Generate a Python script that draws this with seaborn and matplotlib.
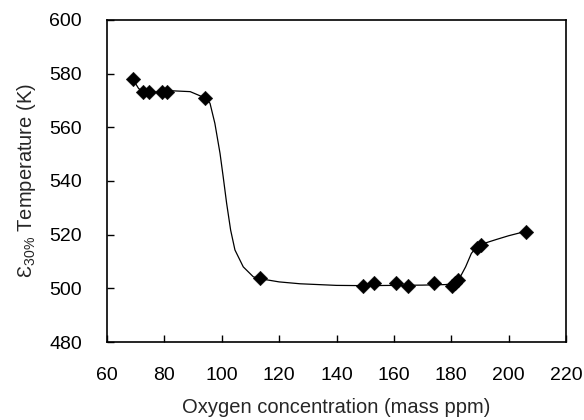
import numpy as np
import pandas as pd
import seaborn as sns
import matplotlib.pyplot as plt

# measured points (oxygen ppm, temperature K)
oxygen = [69, 72.5, 74.6, 79.1, 80.9, 94.1, 113.3, 149.2, 153.1, 160.9,
          165.0, 174.0, 180.1, 181.2, 182.4, 188.8, 190.3, 206.2]
temp = [578, 573, 573, 573, 573, 571, 504, 501, 502, 502,
        501, 502, 501, 502, 503, 515, 516, 521]

# guide curve as drawn in the figure
curve_x = [69, 71, 72.5, 75, 79, 83, 89, 94.1, 95.9, 97.6, 99.4, 100.5,
           101.7, 103.1, 104.6, 107.5, 111, 113.3, 120, 127.3, 140, 150,
           160, 170, 178, 181, 182.5, 185, 187, 188.8, 191, 195.7, 200, 206.2]
curve_y = [578, 574.5, 573.3, 573, 573.2, 573.6, 573.3, 571, 569, 561.5,
           550.3, 541.6, 531.7, 521.7, 514.3, 508, 504.3, 503.6, 502.4,
           501.7, 501.1, 501, 501.1, 501.2, 501.4, 501.8, 503, 508, 513,
           515.4, 516.6, 518.2, 519.6, 521.3]

pts = pd.DataFrame({"oxygen": oxygen, "temp": temp})
crv = pd.DataFrame({"x": curve_x, "y": curve_y})

sns.set_style("ticks")
plt.rcParams["font.family"] = ["Liberation Sans", "DejaVu Sans"]
plt.rcParams["mathtext.fontset"] = "custom"
plt.rcParams["mathtext.rm"] = "Liberation Sans"
plt.rcParams["mathtext.it"] = "Liberation Sans:italic"

fig = plt.figure(figsize=(5.84, 4.2), dpi=100)
ax = fig.add_axes([0.1832, 0.1857, 0.786, 0.7667])

sns.lineplot(data=crv, x="x", y="y", ax=ax, sort=False, color="black",
             linewidth=0.9, estimator=None)
sns.scatterplot(data=pts, x="oxygen", y="temp", ax=ax, marker="D", s=55,
                color="black", edgecolor="black", linewidth=0.3, zorder=3)

ax.set_xlim(60, 220)
ax.set_ylim(480, 600)
ax.set_xticks(range(60, 221, 20))
ax.set_yticks(range(480, 601, 20))
ax.tick_params(direction="in", length=5, width=1, labelsize=14, pad=18,
               color="black", labelcolor="black")
for sp in ax.spines.values():
    sp.set_visible(True)
    sp.set_linewidth(1.2)
    sp.set_color("black")
ax.set_xlabel("Oxygen concentration (mass ppm)", fontsize=14.5, labelpad=10)
ax.set_ylabel(r"$\mathrm{Ɛ}_{\mathrm{30\%}}$ Temperature (K)", fontsize=14.5,
              labelpad=8)

fig.savefig("out.png", dpi=100)
